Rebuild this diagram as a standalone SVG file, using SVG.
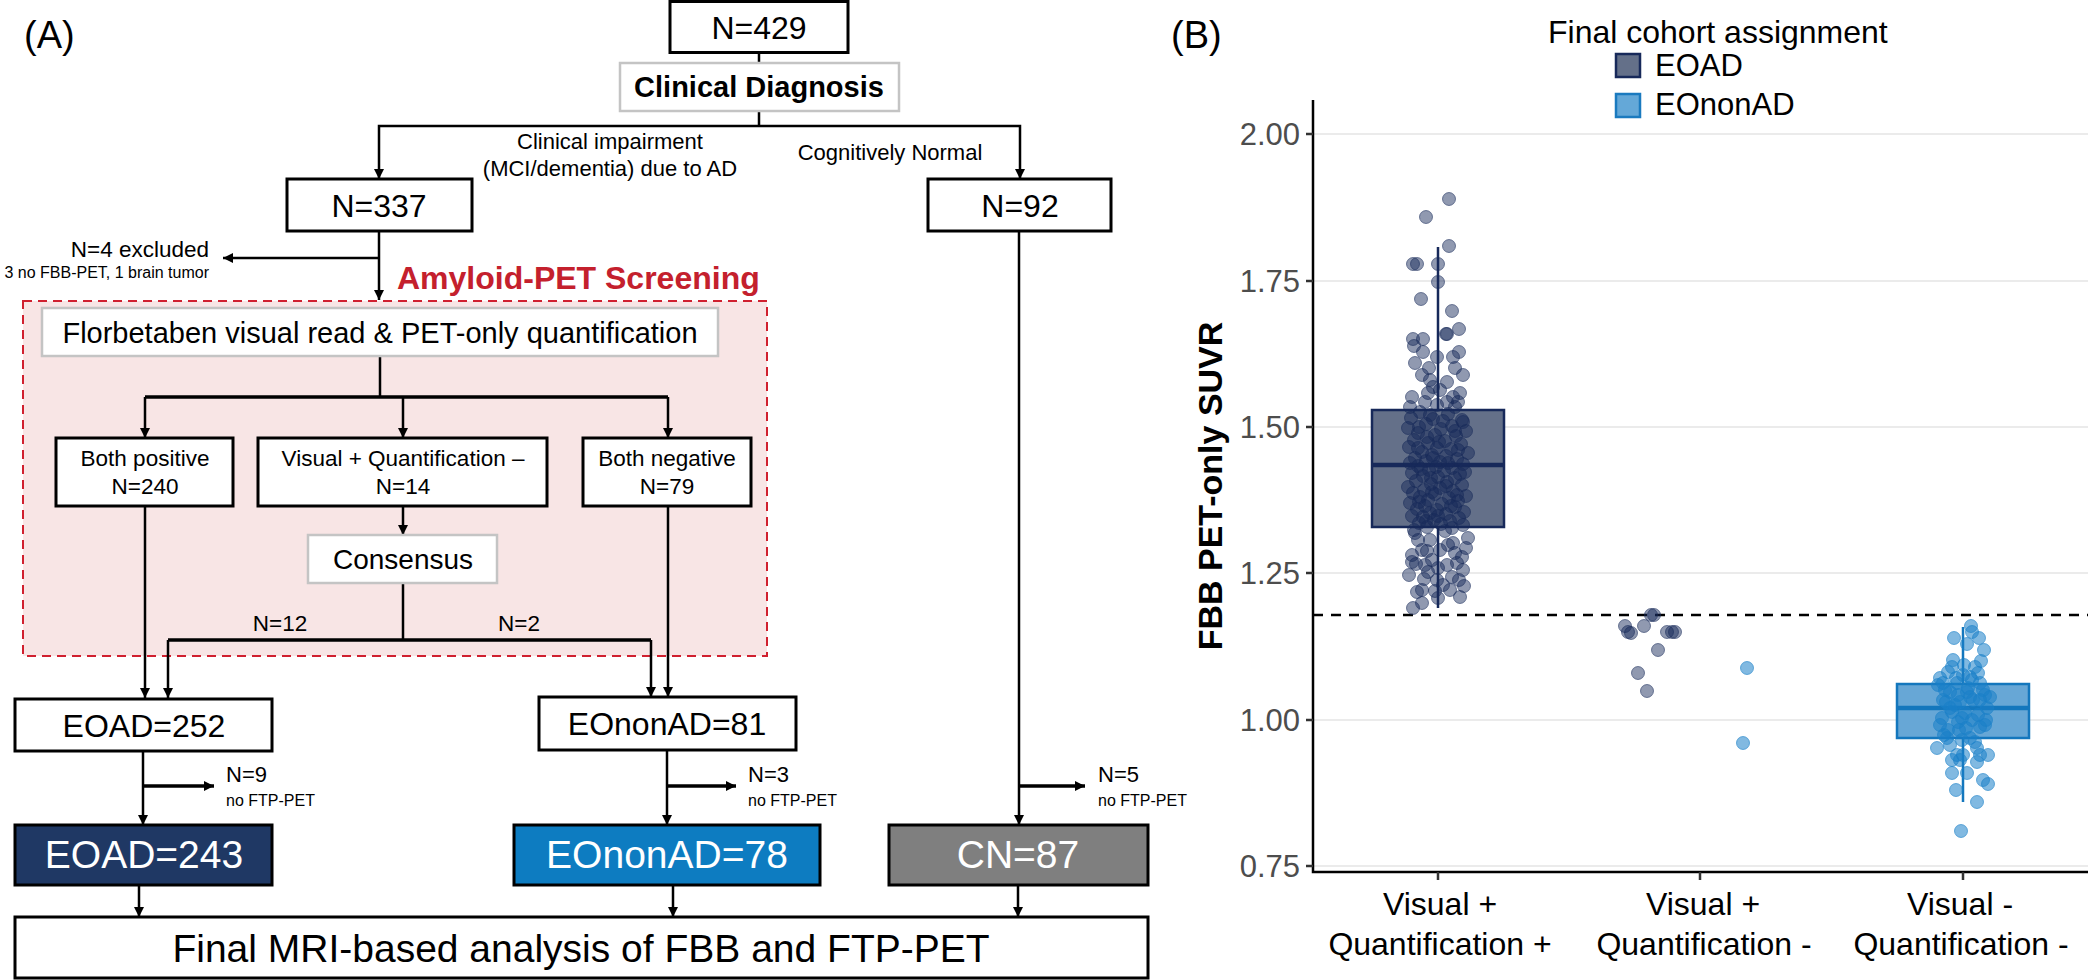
<svg xmlns="http://www.w3.org/2000/svg" width="2088" height="980" viewBox="0 0 2088 980">
<defs>
<marker id="ah" viewBox="0 0 10 10" refX="10" refY="5" markerWidth="11" markerHeight="10" markerUnits="userSpaceOnUse" orient="auto"><path d="M0,0 L10,5 L0,10 z" fill="#000"/></marker>
<style>
text{font-family:"Liberation Sans",Arial,Helvetica,sans-serif;fill:#000}
.c{text-anchor:middle}
.e{text-anchor:end}
.b{font-weight:bold}
.box{fill:#fff;stroke:#000;stroke-width:3}
.gbox{fill:#fff;stroke:#c4c4c4;stroke-width:2.5}
.ln{stroke:#000;stroke-width:2.5;fill:none}
.tk{stroke:#000;stroke-width:3.5;fill:none}
.ar{marker-end:url(#ah)}
.grid{stroke:#ebebeb;stroke-width:2}
.tl{fill:#4d4d4d;font-size:31px;text-anchor:end}
.pa circle{fill:#17295a;fill-opacity:.48;stroke:#17295a;stroke-opacity:.55;stroke-width:1}
.pn circle{fill:#1a80c8;fill-opacity:.55;stroke:#1a80c8;stroke-opacity:.6;stroke-width:1}
</style>
</defs>
<rect width="2088" height="980" fill="#fff"/>

<!-- Panel A -->
<text x="24" y="48" font-size="38">(A)</text>

<g id="screening-area">
<rect x="23" y="301" width="744" height="355" fill="#f8e5e5" stroke="#d0202f" stroke-width="2" stroke-dasharray="9,6"/>
<text x="397" y="289" font-size="32" class="b" style="fill:#c4202d">Amyloid-PET Screening</text>
</g>

<g id="connectors">
<path class="ln" d="M759,53 V63"/>
<path class="ln" d="M759,111 V126"/>
<path class="ln ar" d="M759,126 H379 V179"/>
<path class="ln ar" d="M759,126 H1020 V179"/>
<path class="ln ar" d="M379,231 V300"/>
<path class="ln ar" d="M379,258 H223"/>
<path class="ln" d="M380,356 V397"/>
<path class="tk" d="M145,397 H668"/>
<path class="ln ar" d="M145,397 V438"/>
<path class="ln ar" d="M403,397 V438"/>
<path class="ln ar" d="M668,397 V438"/>
<path class="ln ar" d="M403,506 V535"/>
<path class="ln ar" d="M145,506 V698"/>
<path class="ln ar" d="M668,506 V697"/>
<path class="ln" d="M403,583 V640"/>
<path class="tk" d="M168,640 H651"/>
<path class="ln ar" d="M168,640 V698"/>
<path class="ln ar" d="M651,640 V697"/>
<path class="ln ar" d="M143,751 V825"/>
<path class="tk ar" d="M143,786 H214"/>
<path class="ln ar" d="M667,750 V825"/>
<path class="tk ar" d="M667,786 H736"/>
<path class="ln ar" d="M1019,231 V825"/>
<path class="tk ar" d="M1019,786 H1085"/>
<path class="ln ar" d="M139,885 V917"/>
<path class="ln ar" d="M673,885 V917"/>
<path class="ln ar" d="M1018,885 V917"/>
</g>

<g id="n429"><rect class="box" x="670" y="1.5" width="178" height="51"/><text x="759" y="39" font-size="32" class="c">N=429</text></g>
<g id="clinical-diagnosis"><rect class="gbox" x="620" y="63" width="279" height="48"/><text x="759" y="97" font-size="29" class="c b">Clinical Diagnosis</text></g>
<g id="label-impairment"><text x="610" y="149" font-size="22" class="c">Clinical impairment</text><text x="610" y="176" font-size="22" class="c">(MCI/dementia) due to AD</text></g>
<g id="label-cn"><text x="890" y="160" font-size="22" class="c">Cognitively Normal</text></g>
<g id="n337"><rect class="box" x="287" y="179" width="185" height="52"/><text x="379" y="217" font-size="32" class="c">N=337</text></g>
<g id="n92"><rect class="box" x="928" y="179" width="183" height="52"/><text x="1020" y="217" font-size="32" class="c">N=92</text></g>
<g id="excluded"><text x="209" y="257" font-size="22.5" class="e">N=4 excluded</text><text x="209" y="278" font-size="16" class="e">3 no FBB-PET, 1 brain tumor</text></g>
<g id="florbetaben"><rect class="gbox" x="42" y="308" width="676" height="48"/><text x="380" y="343" font-size="29" class="c">Florbetaben visual read &amp; PET-only quantification</text></g>
<g id="both-positive"><rect class="box" x="56" y="438" width="177" height="68"/><text x="145" y="466" font-size="22.5" class="c">Both positive</text><text x="145" y="494" font-size="22.5" class="c">N=240</text></g>
<g id="visual-pos-quant-neg"><rect class="box" x="258" y="438" width="289" height="68"/><text x="403" y="466" font-size="22.5" class="c">Visual + Quantification –</text><text x="403" y="494" font-size="22.5" class="c">N=14</text></g>
<g id="both-negative"><rect class="box" x="583" y="438" width="168" height="68"/><text x="667" y="466" font-size="22.5" class="c">Both negative</text><text x="667" y="494" font-size="22.5" class="c">N=79</text></g>
<g id="consensus"><rect class="gbox" x="308" y="535" width="189" height="48"/><text x="403" y="569" font-size="28" class="c">Consensus</text></g>
<g id="consensus-labels"><text x="280" y="631" font-size="22.5" class="c">N=12</text><text x="519" y="631" font-size="22.5" class="c">N=2</text></g>
<g id="eoad252"><rect class="box" x="15" y="699" width="257" height="52"/><text x="144" y="737" font-size="32" class="c">EOAD=252</text></g>
<g id="eononad81"><rect class="box" x="539" y="697" width="257" height="53"/><text x="667" y="735" font-size="32" class="c">EOnonAD=81</text></g>
<g id="excl-eoad"><text x="226" y="782" font-size="22">N=9</text><text x="226" y="806" font-size="16">no FTP-PET</text></g>
<g id="excl-eononad"><text x="748" y="782" font-size="22">N=3</text><text x="748" y="806" font-size="16">no FTP-PET</text></g>
<g id="excl-cn"><text x="1098" y="782" font-size="22">N=5</text><text x="1098" y="806" font-size="16">no FTP-PET</text></g>
<g id="eoad243"><rect x="15" y="825" width="257" height="60" fill="#1f3864" stroke="#000" stroke-width="3"/><text x="144" y="868" font-size="39" class="c" style="fill:#fff">EOAD=243</text></g>
<g id="eononad78"><rect x="514" y="825" width="306" height="60" fill="#0d7cc1" stroke="#000" stroke-width="3"/><text x="667" y="868" font-size="39" class="c" style="fill:#fff">EOnonAD=78</text></g>
<g id="cn87"><rect x="889" y="825" width="259" height="60" fill="#7f7f7f" stroke="#000" stroke-width="3"/><text x="1018" y="868" font-size="39" class="c" style="fill:#fff">CN=87</text></g>
<g id="final"><rect class="box" x="15" y="917" width="1133" height="61"/><text x="581" y="962" font-size="39" class="c">Final MRI-based analysis of FBB and FTP-PET</text></g>

<!-- Panel B -->
<text x="1171" y="48" font-size="38">(B)</text>
<g id="legend">
<text x="1548" y="43" font-size="32">Final cohort assignment</text>
<rect x="1616" y="54" width="24" height="23" fill="#647089" stroke="#17295a" stroke-width="2.5"/>
<text x="1655" y="76" font-size="31">EOAD</text>
<rect x="1616" y="94" width="24" height="23" fill="#64a8d8" stroke="#1a7abf" stroke-width="2.5"/>
<text x="1655" y="115" font-size="31">EOnonAD</text>
</g>

<g id="grid">
<line class="grid" x1="1313" y1="134" x2="2088" y2="134"/>
<line class="grid" x1="1313" y1="281" x2="2088" y2="281"/>
<line class="grid" x1="1313" y1="427" x2="2088" y2="427"/>
<line class="grid" x1="1313" y1="573" x2="2088" y2="573"/>
<line class="grid" x1="1313" y1="720" x2="2088" y2="720"/>
<line class="grid" x1="1313" y1="866" x2="2088" y2="866"/>
</g>
<g id="axes">
<path d="M1313,100 V872 H2088" fill="none" stroke="#000" stroke-width="2.5"/>
<path d="M1306,134 H1313 M1306,281 H1313 M1306,427 H1313 M1306,573 H1313 M1306,720 H1313 M1306,866 H1313 M1438,872 V880 M1700,872 V880 M1963,872 V880" stroke="#333" stroke-width="2.5"/>
<text class="tl" x="1300" y="145">2.00</text>
<text class="tl" x="1300" y="292">1.75</text>
<text class="tl" x="1300" y="438">1.50</text>
<text class="tl" x="1300" y="584">1.25</text>
<text class="tl" x="1300" y="731">1.00</text>
<text class="tl" x="1300" y="877">0.75</text>
<text transform="translate(1222,486) rotate(-90)" font-size="34" class="c b">FBB PET-only SUVR</text>
<text x="1440" y="915" font-size="32" class="c">Visual +</text>
<text x="1440" y="955" font-size="32" class="c">Quantification +</text>
<text x="1703" y="915" font-size="32" class="c">Visual +</text>
<text x="1704" y="955" font-size="32" class="c">Quantification -</text>
<text x="1960" y="915" font-size="32" class="c">Visual -</text>
<text x="1961" y="955" font-size="32" class="c">Quantification -</text>
</g>
<line id="threshold" x1="1313" y1="615" x2="2088" y2="615" stroke="#000" stroke-width="2.5" stroke-dasharray="10,8"/>

<g id="box-eoad">
<path d="M1438,247 V410 M1438,527 V608" stroke="#17295a" stroke-width="2.5"/>
<rect x="1372" y="410" width="132" height="117" fill="#647089" stroke="#17295a" stroke-width="2.5"/>
<line x1="1372" y1="465" x2="1504" y2="465" stroke="#17295a" stroke-width="4.5"/>
</g>
<g id="box-eononad">
<path d="M1963,627 V684 M1963,738 V802" stroke="#1477bd" stroke-width="2.5"/>
<rect x="1897" y="684" width="132" height="54" fill="#67a7d6" stroke="#1477bd" stroke-width="2.5"/>
<line x1="1897" y1="708" x2="2029" y2="708" stroke="#1477bd" stroke-width="4.5"/>
</g>

<g id="points-eoad" class="pa">
<circle cx="1449" cy="199" r="6.5"/><circle cx="1426" cy="217" r="6.5"/><circle cx="1449" cy="246" r="6.5"/><circle cx="1413" cy="264" r="6.5"/><circle cx="1417" cy="264" r="6.5"/><circle cx="1438" cy="264" r="6.5"/><circle cx="1438" cy="282" r="6.5"/><circle cx="1421" cy="299" r="6.5"/><circle cx="1452" cy="311" r="6.5"/><circle cx="1459" cy="329" r="6.5"/><circle cx="1446" cy="334" r="6.5"/><circle cx="1447" cy="334" r="6.5"/><circle cx="1413" cy="339" r="6.5"/><circle cx="1423" cy="339" r="6.5"/><circle cx="1414" cy="346" r="6.5"/><circle cx="1459" cy="352" r="6.5"/><circle cx="1423" cy="352" r="6.5"/><circle cx="1437" cy="357" r="6.5"/><circle cx="1415" cy="363" r="6.5"/><circle cx="1453" cy="357" r="6.5"/><circle cx="1429" cy="368" r="6.5"/><circle cx="1455" cy="368" r="6.5"/><circle cx="1422" cy="375" r="6.5"/><circle cx="1463" cy="375" r="6.5"/><circle cx="1430" cy="380" r="6.5"/><circle cx="1447" cy="382" r="6.5"/><circle cx="1412" cy="397" r="6.5"/><circle cx="1460" cy="393" r="6.5"/><circle cx="1433" cy="387" r="6.5"/><circle cx="1440" cy="390" r="6.5"/><circle cx="1428" cy="393" r="6.5"/><circle cx="1453" cy="397" r="6.5"/><circle cx="1425" cy="402" r="6.5"/><circle cx="1458" cy="402" r="6.5"/><circle cx="1447" cy="402" r="6.5"/><circle cx="1410" cy="407" r="6.5"/><circle cx="1437" cy="405" r="6.5"/><circle cx="1455" cy="407" r="6.5"/><circle cx="1463" cy="422" r="6.5"/>
<circle cx="1420" cy="412" r="6.5"/><circle cx="1448" cy="414" r="6.5"/><circle cx="1411" cy="418" r="6.5"/><circle cx="1433" cy="419" r="6.5"/><circle cx="1462" cy="420" r="6.5"/><circle cx="1426" cy="424" r="6.5"/><circle cx="1452" cy="426" r="6.5"/><circle cx="1408" cy="428" r="6.5"/><circle cx="1441" cy="429" r="6.5"/><circle cx="1466" cy="431" r="6.5"/><circle cx="1418" cy="433" r="6.5"/><circle cx="1435" cy="435" r="6.5"/><circle cx="1456" cy="436" r="6.5"/><circle cx="1414" cy="440" r="6.5"/><circle cx="1445" cy="441" r="6.5"/><circle cx="1428" cy="443" r="6.5"/><circle cx="1461" cy="444" r="6.5"/><circle cx="1409" cy="447" r="6.5"/><circle cx="1437" cy="448" r="6.5"/><circle cx="1451" cy="449" r="6.5"/><circle cx="1422" cy="452" r="6.5"/><circle cx="1468" cy="453" r="6.5"/><circle cx="1432" cy="455" r="6.5"/><circle cx="1446" cy="456" r="6.5"/><circle cx="1415" cy="458" r="6.5"/><circle cx="1457" cy="459" r="6.5"/><circle cx="1426" cy="461" r="6.5"/><circle cx="1440" cy="462" r="6.5"/><circle cx="1410" cy="463" r="6.5"/><circle cx="1463" cy="464" r="6.5"/><circle cx="1418" cy="466" r="6.5"/><circle cx="1436" cy="467" r="6.5"/><circle cx="1452" cy="468" r="6.5"/><circle cx="1429" cy="470" r="6.5"/><circle cx="1444" cy="471" r="6.5"/><circle cx="1412" cy="473" r="6.5"/><circle cx="1460" cy="474" r="6.5"/><circle cx="1423" cy="476" r="6.5"/><circle cx="1438" cy="477" r="6.5"/><circle cx="1455" cy="478" r="6.5"/>
<circle cx="1430" cy="415" r="6.5"/><circle cx="1443" cy="421" r="6.5"/><circle cx="1419" cy="427" r="6.5"/><circle cx="1455" cy="431" r="6.5"/><circle cx="1427" cy="437" r="6.5"/><circle cx="1439" cy="442" r="6.5"/><circle cx="1418" cy="448" r="6.5"/><circle cx="1458" cy="450" r="6.5"/><circle cx="1433" cy="458" r="6.5"/><circle cx="1448" cy="463" r="6.5"/><circle cx="1421" cy="469" r="6.5"/><circle cx="1465" cy="472" r="6.5"/><circle cx="1431" cy="478" r="6.5"/><circle cx="1446" cy="486" r="6.5"/>
<circle cx="1416" cy="481" r="6.5"/><circle cx="1447" cy="482" r="6.5"/><circle cx="1431" cy="484" r="6.5"/><circle cx="1462" cy="485" r="6.5"/><circle cx="1408" cy="487" r="6.5"/><circle cx="1440" cy="488" r="6.5"/><circle cx="1424" cy="490" r="6.5"/><circle cx="1453" cy="491" r="6.5"/><circle cx="1413" cy="493" r="6.5"/><circle cx="1435" cy="494" r="6.5"/><circle cx="1466" cy="496" r="6.5"/><circle cx="1420" cy="497" r="6.5"/><circle cx="1449" cy="498" r="6.5"/><circle cx="1428" cy="500" r="6.5"/><circle cx="1458" cy="501" r="6.5"/><circle cx="1410" cy="503" r="6.5"/><circle cx="1442" cy="504" r="6.5"/><circle cx="1425" cy="506" r="6.5"/><circle cx="1455" cy="507" r="6.5"/><circle cx="1417" cy="509" r="6.5"/><circle cx="1437" cy="510" r="6.5"/><circle cx="1464" cy="512" r="6.5"/><circle cx="1430" cy="513" r="6.5"/><circle cx="1446" cy="514" r="6.5"/><circle cx="1412" cy="516" r="6.5"/><circle cx="1423" cy="517" r="6.5"/><circle cx="1459" cy="518" r="6.5"/><circle cx="1434" cy="520" r="6.5"/><circle cx="1450" cy="521" r="6.5"/><circle cx="1419" cy="523" r="6.5"/><circle cx="1441" cy="524" r="6.5"/><circle cx="1463" cy="525" r="6.5"/><circle cx="1427" cy="527" r="6.5"/><circle cx="1452" cy="528" r="6.5"/><circle cx="1414" cy="530" r="6.5"/><circle cx="1445" cy="531" r="6.5"/>
<circle cx="1432" cy="492" r="6.5"/><circle cx="1419" cy="502" r="6.5"/><circle cx="1451" cy="506" r="6.5"/><circle cx="1438" cy="516" r="6.5"/><circle cx="1426" cy="521" r="6.5"/><circle cx="1457" cy="495" r="6.5"/>
<circle cx="1415" cy="533" r="6.5"/><circle cx="1453" cy="543" r="6.5"/><circle cx="1412" cy="555" r="6.5"/><circle cx="1422" cy="550" r="6.5"/><circle cx="1440" cy="550" r="6.5"/><circle cx="1427" cy="551" r="6.5"/><circle cx="1412" cy="562" r="6.5"/><circle cx="1416" cy="564" r="6.5"/><circle cx="1457" cy="563" r="6.5"/><circle cx="1462" cy="557" r="6.5"/><circle cx="1438" cy="568" r="6.5"/><circle cx="1463" cy="570" r="6.5"/><circle cx="1437" cy="580" r="6.5"/><circle cx="1424" cy="579" r="6.5"/><circle cx="1452" cy="577" r="6.5"/><circle cx="1464" cy="586" r="6.5"/><circle cx="1417" cy="592" r="6.5"/><circle cx="1422" cy="590" r="6.5"/><circle cx="1435" cy="591" r="6.5"/><circle cx="1460" cy="597" r="6.5"/><circle cx="1422" cy="603" r="6.5"/><circle cx="1413" cy="608" r="6.5"/><circle cx="1430" cy="540" r="6.5"/><circle cx="1468" cy="538" r="6.5"/><circle cx="1448" cy="545" r="6.5"/><circle cx="1418" cy="540" r="6.5"/><circle cx="1455" cy="553" r="6.5"/><circle cx="1432" cy="560" r="6.5"/><circle cx="1447" cy="565" r="6.5"/><circle cx="1443" cy="585" r="6.5"/><circle cx="1428" cy="572" r="6.5"/><circle cx="1409" cy="575" r="6.5"/><circle cx="1450" cy="590" r="6.5"/><circle cx="1438" cy="598" r="6.5"/><circle cx="1466" cy="548" r="6.5"/><circle cx="1425" cy="565" r="6.5"/><circle cx="1459" cy="580" r="6.5"/>
<circle cx="1625" cy="626" r="6.5"/><circle cx="1628" cy="632" r="6.5"/><circle cx="1631" cy="633" r="6.5"/><circle cx="1644" cy="626" r="6.5"/><circle cx="1651" cy="615" r="6.5"/><circle cx="1654" cy="615" r="6.5"/><circle cx="1667" cy="632" r="6.5"/><circle cx="1672" cy="632" r="6.5"/><circle cx="1675" cy="632" r="6.5"/><circle cx="1658" cy="650" r="6.5"/><circle cx="1638" cy="673" r="6.5"/><circle cx="1647" cy="691" r="6.5"/>
</g>

<g id="points-eononad" class="pn">
<circle cx="1747" cy="668" r="6.5"/><circle cx="1743" cy="743" r="6.5"/>
<circle cx="1971" cy="626" r="6.5"/><circle cx="1972" cy="632" r="6.5"/><circle cx="1954" cy="638" r="6.5"/><circle cx="1979" cy="638" r="6.5"/><circle cx="1967" cy="644" r="6.5"/><circle cx="1984" cy="650" r="6.5"/><circle cx="1953" cy="660" r="6.5"/><circle cx="1981" cy="661" r="6.5"/><circle cx="1952" cy="667" r="6.5"/><circle cx="1975" cy="667" r="6.5"/><circle cx="1978" cy="673" r="6.5"/><circle cx="1963" cy="675" r="6.5"/><circle cx="1940" cy="678" r="6.5"/><circle cx="1970" cy="677" r="6.5"/><circle cx="1943" cy="683" r="6.5"/><circle cx="1980" cy="683" r="6.5"/><circle cx="1957" cy="683" r="6.5"/><circle cx="1938" cy="685" r="6.5"/><circle cx="1950" cy="692" r="6.5"/><circle cx="1967" cy="692" r="6.5"/><circle cx="1985" cy="695" r="6.5"/><circle cx="1990" cy="697" r="6.5"/><circle cx="1943" cy="700" r="6.5"/><circle cx="1960" cy="702" r="6.5"/><circle cx="1973" cy="700" r="6.5"/><circle cx="1987" cy="708" r="6.5"/><circle cx="1950" cy="708" r="6.5"/><circle cx="1965" cy="713" r="6.5"/><circle cx="1942" cy="718" r="6.5"/><circle cx="1972" cy="720" r="6.5"/><circle cx="1958" cy="722" r="6.5"/><circle cx="1980" cy="727" r="6.5"/><circle cx="1948" cy="730" r="6.5"/><circle cx="1959" cy="730" r="6.5"/><circle cx="1947" cy="738" r="6.5"/><circle cx="1970" cy="738" r="6.5"/><circle cx="1977" cy="748" r="6.5"/><circle cx="1937" cy="748" r="6.5"/><circle cx="1957" cy="755" r="6.5"/><circle cx="1963" cy="755" r="6.5"/><circle cx="1980" cy="755" r="6.5"/><circle cx="1988" cy="755" r="6.5"/><circle cx="1952" cy="760" r="6.5"/><circle cx="1977" cy="762" r="6.5"/><circle cx="1952" cy="773" r="6.5"/><circle cx="1967" cy="773" r="6.5"/><circle cx="1983" cy="780" r="6.5"/><circle cx="1988" cy="784" r="6.5"/><circle cx="1956" cy="790" r="6.5"/><circle cx="1977" cy="802" r="6.5"/><circle cx="1961" cy="831" r="6.5"/>
<circle cx="1945" cy="690" r="6.5"/><circle cx="1968" cy="688" r="6.5"/><circle cx="1955" cy="705" r="6.5"/><circle cx="1978" cy="715" r="6.5"/><circle cx="1962" cy="718" r="6.5"/><circle cx="1940" cy="725" r="6.5"/><circle cx="1985" cy="725" r="6.5"/><circle cx="1952" cy="712" r="6.5"/><circle cx="1970" cy="697" r="6.5"/><circle cx="1946" cy="702" r="6.5"/><circle cx="1983" cy="690" r="6.5"/><circle cx="1958" cy="695" r="6.5"/><circle cx="1966" cy="728" r="6.5"/><circle cx="1975" cy="742" r="6.5"/><circle cx="1950" cy="745" r="6.5"/><circle cx="1962" cy="740" r="6.5"/><circle cx="1944" cy="735" r="6.5"/><circle cx="1980" cy="700" r="6.5"/><circle cx="1956" cy="678" r="6.5"/><circle cx="1972" cy="680" r="6.5"/><circle cx="1964" cy="665" r="6.5"/><circle cx="1948" cy="672" r="6.5"/><circle cx="1986" cy="720" r="6.5"/><circle cx="1960" cy="760" r="6.5"/>
</g>
</svg>
